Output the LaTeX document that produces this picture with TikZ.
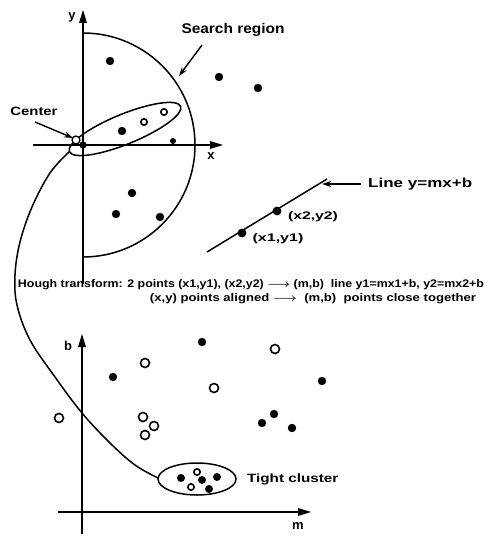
\documentclass[tikz,border=0pt]{standalone}
\usepackage{fontspec}
\setmainfont{Liberation Sans}
\usepackage{graphicx}
\usetikzlibrary{arrows.meta}
\newcommand\fitw[2]{\resizebox{#1}{\height}{#2}}
\newcommand\larr{{\mathversion{bold}$\longrightarrow$}}
\begin{document}
\begin{tikzpicture}[x=1pt,y=-1pt,
  ln/.style={line width=1.5pt},
  ptarrow/.style={line width=1.4pt,-{Stealth[length=9pt,width=6pt]}},
  fdot/.style={fill=black,draw=black,line width=0.8pt},
  odot/.style={fill=white,draw=black,line width=1.6pt},
  lbl/.style={inner sep=0pt,text=black}]
\useasboundingbox (0,0) rectangle (493,537);
% ---------- top plot ----------
\coordinate (O) at (83,145);
\coordinate (ybot) at (83,284);
\coordinate (ytip) at (83,10);
\coordinate (xl) at (33,145);
\coordinate (xtip) at (223,145);
\draw[ln] (ybot) -- ([yshift=-8pt]ytip);
\fill (ytip) -- ++(-4,13) -- ++(8,0) -- cycle;
\draw[ln] (xl) -- ([xshift=-8pt]xtip);
\fill (xtip) -- ++(-13,-4) -- ++(0,8) -- cycle;
\node[lbl,font=\bfseries\fontsize{13}{13}\selectfont] (ylab) at (72,17) {y};
\node[lbl,font=\bfseries\fontsize{13}{13}\selectfont] (xlab) at (211,156) {x};
% search region
\draw[ln] (83,33) arc[start angle=-90,end angle=90,radius=112];
\node[lbl,font=\bfseries\fontsize{14}{14}\selectfont] (srch) at (233,30) {\fitw{103pt}{Search region}};
\coordinate (sarc) at (179,76);
\draw[ptarrow] (202,45) -- (sarc);
% ellipse of aligned points
\draw[ln,rotate around={22.2:(125,129)}] (125,129) ellipse [x radius=60,y radius=15];
% center
\node[lbl,font=\bfseries\fontsize{12}{12}\selectfont] (ctr) at (34,111) {\fitw{47pt}{Center}};
\draw[odot,line width=1.3pt] (76,140) circle (4);
\draw[fdot] (O) circle (3.2);
\draw[ptarrow] (35,122) -- (73,138);
% points top
\foreach \p in {(110,61),(219,77),(258,88),(122,131),(132,193),(116,214),(160,217)}
  \fill \p circle (4.2);
\fill (173,141) circle (3);
\foreach \p in {(144,122),(164,112)}
  \draw[odot] \p circle (3.2);
% line y=mx+b
\coordinate (la) at (207,252);
\coordinate (lb) at (327,179);
\draw[ln] (la) -- (lb);
\fill (242,233) circle (4.4);
\fill (277,211) circle (4.4);
\node[lbl,font=\bfseries\fontsize{11}{11}\selectfont] (p1) at (278,239) {\fitw{51pt}{(x1,y1)}};
\node[lbl,font=\bfseries\fontsize{11}{11}\selectfont] (p2) at (313,217) {\fitw{50pt}{(x2,y2)}};
\node[lbl,anchor=west,font=\bfseries\fontsize{13}{13}\selectfont] (lnlab) at (368,184) {\fitw{104pt}{Line y=mx+b}};
\draw[ptarrow] (361,184) -- (322,184);
% ---------- text ----------
\node[lbl,font=\bfseries\fontsize{11}{11}\selectfont] (h1) at (251,285)
  {\fitw{466pt}{Hough transform: 2 points (x1,y1), (x2,y2) \larr{} (m,b)\ \ line y1=mx1+b, y2=mx2+b}};
\node[lbl,font=\bfseries\fontsize{11}{11}\selectfont] (h2) at (313,299)
  {\fitw{326pt}{(x,y) points aligned \larr\ \ (m,b)\ \ points close together}};
% ---------- bottom plot ----------
\coordinate (bbot) at (82,534);
\coordinate (btip) at (82,334);
\coordinate (ml) at (58,512);
\coordinate (mtip) at (311,512);
\draw[ln] (bbot) -- ([yshift=-8pt]btip);
\fill (btip) -- ++(-4,13) -- ++(8,0) -- cycle;
\draw[ln] (ml) -- ([xshift=-8pt]mtip);
\fill (mtip) -- ++(-13,-4) -- ++(0,8) -- cycle;
\node[lbl,font=\bfseries\fontsize{13}{13}\selectfont] (blab) at (68,346) {b};
\node[lbl,font=\bfseries\fontsize{13}{13}\selectfont] (mlab) at (298,526) {m};
\foreach \p in {(202,342),(113,377),(322,381),(274,414),(262,423),(292,428)}
  \fill \p circle (4.2);
\foreach \p in {(275,349),(145,363),(214,388),(59,418),(143,417),(154,426),(145,435)}
  \draw[odot] \p circle (4.5);
% tight cluster
\draw[ln] (197,479) ellipse [x radius=39,y radius=16];
\foreach \p in {(202,480),(217,477),(209,489),(181,478)}
  \fill \p circle (4);
\foreach \p in {(197,472),(191,487)}
  \draw[odot] \p circle (3.2);
\node[lbl,anchor=west,font=\bfseries\fontsize{12}{12}\selectfont] (tc) at (247,479) {\fitw{91pt}{Tight cluster}};
% big connecting curve
\coordinate (cs) at (69,152);
\coordinate (ce) at (158,478);
\draw[ln] plot[smooth,tension=0.6] coordinates {(cs) (50,173) (32,207) (20,242) (15,275) (17,305) (30,340) (55,377) (82,413) (110,443) (135,465) (ce)};
\end{tikzpicture}
\end{document}
